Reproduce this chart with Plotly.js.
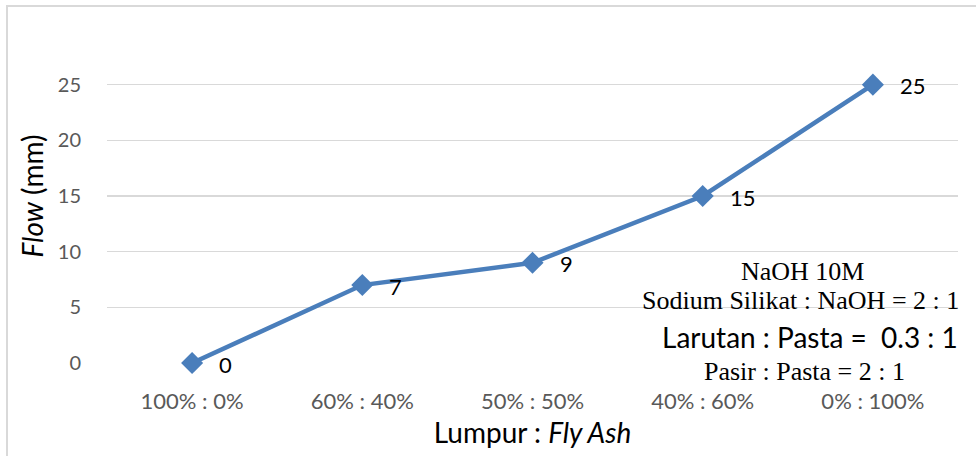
<!DOCTYPE html>
<html>
<head>
<meta charset="utf-8">
<script src="https://cdn.plot.ly/plotly-3.0.1.min.js"></script>
<style>html,body{margin:0;padding:0;background:#fff;}#chart{width:976px;height:456px;}</style>
</head>
<body>
<div id="chart"></div>
<script>
const categories = ["100% : 0%", "60% : 40%", "50% : 50%", "40% : 60%", "0% : 100%"];
const flowValues = [0, 7, 9, 15, 25];
const yTicks = [0, 5, 10, 15, 20, 25];
const noteLines = [
  {text: "NaOH 10M", font: "Liberation Serif", size: 26},
  {text: "Sodium Silikat : NaOH = 2 : 1", font: "Liberation Serif", size: 26},
  {text: "Larutan : Pasta =  0.3 : 1", font: "Lato", size: 28},
  {text: "Pasir : Pasta = 2 : 1", font: "Liberation Serif", size: 26}
];

const trace = {
  x: categories,
  y: flowValues,
  type: "scatter",
  mode: "lines+markers",
  line: {color: "#4a7ebb", width: 4.5},
  marker: {symbol: "diamond", size: 17, color: "#4a7ebb"},
  cliponaxis: false,
  hoverinfo: "skip"
};

const annotations = flowValues.map((v, i) => ({
  x: categories[i], y: v, xref: "x", yref: "y",
  text: String(v), showarrow: false,
  xanchor: "left", yanchor: "middle", xshift: 25, yshift: -1,
  font: {family: "Lato, sans-serif", size: 22, color: "#000"}
}));

const noteY = [272, 301, 337, 371];
const noteX = [803, 800, 810, 804];
noteLines.forEach((ln, i) => {
  annotations.push({
    xref: "paper", yref: "paper",
    x: (noteX[i] - 107) / 851, y: (363 - noteY[i]) / 333.6,
    xanchor: "center", yanchor: "middle",
    text: ln.text, showarrow: false,
    font: {family: ln.font, size: ln.size, color: "#000"}
  });
});

const layout = {
  width: 976, height: 456,
  margin: {l: 107, r: 18, t: 29.4, b: 93},
  paper_bgcolor: "#fff", plot_bgcolor: "#fff",
  showlegend: false,
  xaxis: {
    type: "category",
    range: [-0.5, 4.5],
    showgrid: false, zeroline: false, showline: false,
    ticks: "", ticklabelstandoff: 23,
    tickfont: {family: "Lato, sans-serif", size: 22, color: "#595959"},
    title: {text: "Lumpur : <i>Fly Ash</i>", standoff: 10,
            font: {family: "Lato, sans-serif", size: 28, color: "#000"}}
  },
  yaxis: {
    range: [0, 30],
    tickvals: yTicks,
    showgrid: true, gridcolor: "#d9d9d9", gridwidth: 1.3,
    zeroline: false, showline: false,
    ticks: "", ticklabelstandoff: 25,
    tickfont: {family: "Lato, sans-serif", size: 20, color: "#595959"},
    title: {text: "<i>Flow</i> (mm)", standoff: 5,
            font: {family: "Lato, sans-serif", size: 28, color: "#000"}}
  },
  annotations: annotations,
  shapes: [{
    type: "rect", xref: "paper", yref: "paper",
    x0: (7 - 107) / 851, x1: 1.2,
    y0: -0.5, y1: (363 - 6.5) / 333.6,
    line: {color: "#d9d9d9", width: 2}, fillcolor: "rgba(0,0,0,0)", layer: "below"
  }]
};

Plotly.newPlot("chart", [trace], layout, {displayModeBar: false, staticPlot: true});
</script>
</body>
</html>
